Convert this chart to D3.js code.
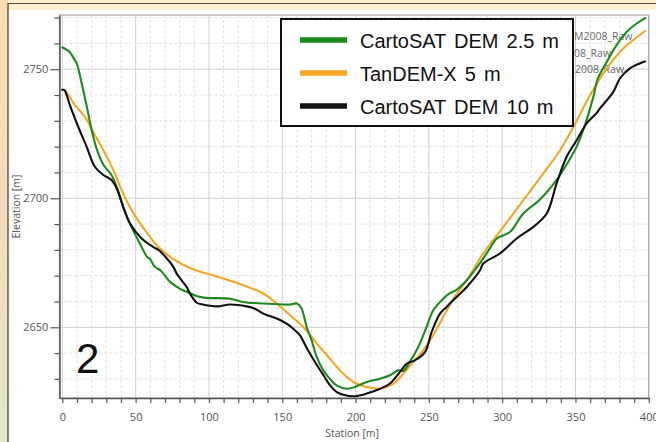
<!DOCTYPE html>
<html>
<head>
<meta charset="utf-8">
<script src="https://cdn.jsdelivr.net/npm/d3@7"></script>
<style>
  html, body { margin: 0; padding: 0; background: #ffffff; }
  svg { display: block; }
</style>
</head>
<body>
<svg id="chart" width="656" height="442"></svg>
<script>
// Station (m) and elevation (m) samples along the profile, one pair of arrays per DEM
const carto25Station = [0, 3, 5, 8, 10, 13, 16.5, 20, 23.5, 28, 33.5, 37, 41.5, 47, 53, 57.5, 60, 63, 67, 70, 73.5, 80, 88, 92, 98, 114, 123, 137, 155, 160, 163, 166.7, 170, 173.5, 178, 182.5, 187, 194, 199.6, 207.6, 216.7, 223.5, 229, 232.6, 237, 242.8, 248.5, 253, 259.8, 264.4, 268.9, 275.8, 285, 291, 296.3, 305.3, 314.4, 325.8, 337, 342.8, 350.8, 355, 359, 362.5, 365, 371.3, 378, 385, 391.7, 397.5];
const carto25Elev = [2758.5, 2757.5, 2756.7, 2754, 2752, 2745, 2736, 2726.5, 2719, 2713, 2709, 2704.5, 2696.6, 2689, 2682.4, 2677.5, 2676.3, 2673.5, 2672, 2670, 2667.6, 2665, 2663, 2662, 2661.4, 2661.1, 2659.8, 2659.2, 2658.8, 2659.2, 2657.5, 2650, 2645, 2638.5, 2633.3, 2630, 2627.5, 2626.2, 2626.9, 2628.8, 2630.1, 2631.4, 2633.3, 2633.1, 2636.6, 2642.4, 2650.2, 2656.6, 2661.1, 2663.2, 2664.5, 2668.2, 2675, 2680, 2684.4, 2686.9, 2694.1, 2699.5, 2707, 2712, 2720, 2726, 2733, 2740, 2746, 2752.8, 2759.3, 2764.5, 2767.7, 2769.8];

const tandemStation = [0, 1.4, 8.7, 15.5, 21.1, 28, 34.8, 40.5, 47.3, 56.4, 65.5, 76.9, 88.2, 97.3, 109.8, 123.4, 137.1, 146.2, 155.3, 164.4, 173.5, 181.5, 189.4, 198.5, 207.6, 216.7, 225.8, 232.6, 239.4, 246.2, 253, 259.8, 266.7, 275.8, 287.1, 300.8, 314.4, 328.1, 339.5, 348.5, 360, 371.3, 382.6, 397.5];
const tandemElev = [2742, 2741.9, 2736, 2731.5, 2725.7, 2718.6, 2710.9, 2703.1, 2695.3, 2687.6, 2681.1, 2676, 2672.7, 2671, 2668.9, 2666.3, 2663.1, 2659.2, 2654.7, 2650.1, 2643.7, 2638.5, 2633.3, 2628.8, 2626.9, 2626.2, 2628.2, 2632.1, 2636.6, 2641.1, 2646.9, 2654, 2661.1, 2668.2, 2678.6, 2688.9, 2699.2, 2709.6, 2718.6, 2727.5, 2740, 2750.3, 2758, 2764.8];

const carto10Station = [0, 1.4, 5.2, 10.9, 16.6, 22.3, 28, 33.7, 37.1, 41.6, 46.2, 54.1, 62.1, 66, 70, 75.7, 78, 81.4, 84.8, 87.1, 91.7, 95.1, 105.3, 114.4, 125.7, 131.4, 137.1, 146.2, 153, 159.9, 162.1, 166.7, 173.5, 178, 182.6, 187, 191.6, 199.6, 207.6, 216.7, 223.5, 230.3, 234.9, 240.5, 247.4, 251.9, 257.6, 262.1, 268.9, 275.8, 284.9, 287.1, 298.5, 309.9, 321.2, 330.4, 337.1, 343.9, 350.8, 357.6, 360, 364.4, 366.7, 375.8, 380.3, 387.1, 396.2, 397.5];
const carto10Elev = [2742, 2741.9, 2736, 2727.6, 2719.9, 2712.1, 2709, 2707, 2703.8, 2696.6, 2690.2, 2684.4, 2681.1, 2679.8, 2677.5, 2673.4, 2670.8, 2668.2, 2665.6, 2663, 2659.5, 2658.9, 2658.1, 2658.8, 2658.1, 2657.2, 2655.3, 2653.4, 2651.4, 2648.2, 2646.9, 2642, 2635.5, 2631.5, 2627.5, 2625, 2623.9, 2623.3, 2624.3, 2626.2, 2628.2, 2632.7, 2635.9, 2637.2, 2640.4, 2648.2, 2655.3, 2657.9, 2661.7, 2665.6, 2672.1, 2674.7, 2678.6, 2684.4, 2688.9, 2694.1, 2705.7, 2716, 2722.5, 2729, 2730.5, 2733, 2734.8, 2741.2, 2746.4, 2750.3, 2752.8, 2753];

const seriesNames = ["CartoSAT DEM 2.5 m", "TanDEM-X 5 m", "CartoSAT DEM 10 m"];
const seriesColors = ["#1d8a1d", "#f5a623", "#111111"];
// tails of the profile end labels that stick out beside the legend box
const rawLabels = ["M2008_Raw", "08_Raw", "2008_Raw"];
const xLabelTicks = [0, 50, 100, 150, 200, 250, 300, 350, 400];
const yLabelTicks = [2650, 2700, 2750];
const panelLabel = "2";

const series = [
  { name: seriesNames[0], color: seriesColors[0], st: carto25Station, el: carto25Elev },
  { name: seriesNames[1], color: seriesColors[1], st: tandemStation, el: tandemElev },
  { name: seriesNames[2], color: seriesColors[2], st: carto10Station, el: carto10Elev }
];

const W = 656, H = 442;
const svg = d3.select("#chart");

// ---- page frame ----
const defs = svg.append("defs");
const grad = defs.append("linearGradient").attr("id", "sideGrad")
  .attr("x1", 0).attr("y1", 0).attr("x2", 0).attr("y2", 1);
grad.append("stop").attr("offset", "0%").attr("stop-color", "#fbdcae");
grad.append("stop").attr("offset", "45%").attr("stop-color", "#f6d9b8");
grad.append("stop").attr("offset", "100%").attr("stop-color", "#dfe8c4");

svg.append("rect").attr("x", 0).attr("y", 0).attr("width", W).attr("height", H).attr("fill", "#ffffff");
svg.append("rect").attr("x", 0).attr("y", 0).attr("width", W).attr("height", 10).attr("fill", "#fcf0cf");
svg.append("rect").attr("x", 0).attr("y", 0).attr("width", 8).attr("height", H).attr("fill", "url(#sideGrad)");
svg.append("line").attr("x1", 8).attr("x2", W).attr("y1", 3.5).attr("y2", 3.5)
  .attr("stroke", "#5a5446").attr("stroke-width", 1);
svg.append("line").attr("x1", 8).attr("x2", 8).attr("y1", 3).attr("y2", H)
  .attr("stroke", "#3d3a33").attr("stroke-width", 1.2);

// ---- plot area ----
const plot = { left: 59.4, right: 648.8, top: 15, bottom: 398 };
const x = d3.scaleLinear().domain([-2, 400]).range([plot.left, plot.right]);
const y = d3.scaleLinear().domain([2622.6, 2771]).range([plot.bottom, plot.top]);

const minorX = d3.range(0, 401, 10);
const minorY = d3.range(2630, 2771, 10);

const grid = svg.append("g");
grid.selectAll("line.vx").data(minorX).join("line")
  .attr("x1", d => x(d)).attr("x2", d => x(d))
  .attr("y1", plot.top).attr("y2", plot.bottom)
  .attr("stroke", d => d % 50 === 0 ? "#cfcfcf" : "#e2e2e2")
  .attr("stroke-width", 1)
  .attr("stroke-dasharray", d => d % 50 === 0 ? null : "3,2");
grid.selectAll("line.hy").data(minorY).join("line")
  .attr("x1", plot.left).attr("x2", plot.right)
  .attr("y1", d => y(d)).attr("y2", d => y(d))
  .attr("stroke", d => d % 50 === 0 ? "#cfcfcf" : "#e2e2e2")
  .attr("stroke-width", 1)
  .attr("stroke-dasharray", d => d % 50 === 0 ? null : "3,2");

// plot border
svg.append("rect").attr("x", plot.left).attr("y", plot.top)
  .attr("width", plot.right - plot.left).attr("height", plot.bottom - plot.top)
  .attr("fill", "none").attr("stroke", "#9a9a9a").attr("stroke-width", 1);

// profile end labels, right of the legend
const rawY = [40, 57, 73];
const rawStart = [574, 574, 575];
svg.append("g").selectAll("text").data(rawLabels).join("text")
  .attr("x", (d, i) => rawStart[i]).attr("y", (d, i) => rawY[i])
  .attr("font-family", "'Open Sans', sans-serif").attr("font-size", 10.5)
  .attr("fill", "#6a6a6a").text(d => d);

// ---- profile lines ----
const line = d3.line().curve(d3.curveCatmullRom.alpha(0.5));
const linesG = svg.append("g");
// draw order: TanDEM-X first, then CartoSAT 2.5 m, CartoSAT 10 m on top
[1, 0, 2].forEach(i => {
  const s = series[i];
  const pts = s.st.map((v, k) => [x(v), y(s.el[k])]);
  linesG.append("path").attr("d", line(pts))
    .attr("fill", "none").attr("stroke", s.color)
    .attr("stroke-width", 2.1).attr("stroke-linejoin", "round").attr("stroke-linecap", "round");
});

// ---- axes ----
const axisColor = "#555555";
const tickFont = "'Open Sans', sans-serif";

const xAxis = d3.axisBottom(x).tickValues(minorX).tickSize(5).tickSizeOuter(0)
  .tickFormat(d => xLabelTicks.includes(d) ? d : "");
const gx = svg.append("g").attr("transform", `translate(0,${plot.bottom})`).call(xAxis);
gx.select(".domain").attr("stroke", axisColor).attr("stroke-width", 1.6);
gx.selectAll(".tick line").attr("stroke", axisColor).attr("stroke-width", 1.2);
gx.selectAll(".tick text").attr("font-family", tickFont).attr("font-size", 11)
  .attr("fill", "#555").attr("dy", "0.71em").attr("y", 15);

const yAxis = d3.axisLeft(y).tickValues(minorY).tickSize(5).tickSizeOuter(0)
  .tickFormat(d => yLabelTicks.includes(d) ? d : "");
const gy = svg.append("g").attr("transform", `translate(${plot.left},0)`).call(yAxis);
gy.select(".domain").attr("stroke", axisColor).attr("stroke-width", 1.6);
gy.selectAll(".tick line").attr("stroke", axisColor).attr("stroke-width", 1.2)
  .attr("x2", d => yLabelTicks.includes(d) ? -9 : -5);
gy.selectAll(".tick text").attr("font-family", tickFont).attr("font-size", 11)
  .attr("fill", "#555").attr("x", -11);

svg.append("text").attr("x", (plot.left + plot.right) / 2 - 2).attr("y", 437)
  .attr("text-anchor", "middle").attr("font-family", tickFont).attr("font-size", 10.5)
  .attr("fill", "#555").text("Station [m]");
svg.append("text")
  .attr("transform", `translate(20,${(plot.top + plot.bottom) / 2}) rotate(-90)`)
  .attr("text-anchor", "middle").attr("font-family", tickFont).attr("font-size", 10.5)
  .attr("fill", "#555").text("Elevation [m]");

// panel number
svg.append("text").attr("x", 76).attr("y", 373)
  .attr("font-family", "'Liberation Sans', Arial, sans-serif").attr("font-size", 42)
  .attr("fill", "#111").text(panelLabel);

// ---- legend ----
const lg = svg.append("g");
lg.append("rect").attr("x", 281).attr("y", 19).attr("width", 292).attr("height", 107)
  .attr("fill", "#ffffff").attr("stroke", "#111").attr("stroke-width", 2);
const legY = d3.scalePoint().domain(seriesNames).range([40, 106]);
lg.selectAll("line.sw").data(series).join("line")
  .attr("x1", 300).attr("x2", 347)
  .attr("y1", d => legY(d.name)).attr("y2", d => legY(d.name))
  .attr("stroke", d => d.color).attr("stroke-width", 5.5);
lg.selectAll("text").data(series).join("text")
  .attr("x", 360).attr("y", d => legY(d.name) + 7.5)
  .attr("font-family", "'Liberation Sans', Arial, sans-serif").attr("font-size", 20)
  .attr("word-spacing", 2.5)
  .attr("fill", "#111").text(d => d.name);
</script>
</body>
</html>
